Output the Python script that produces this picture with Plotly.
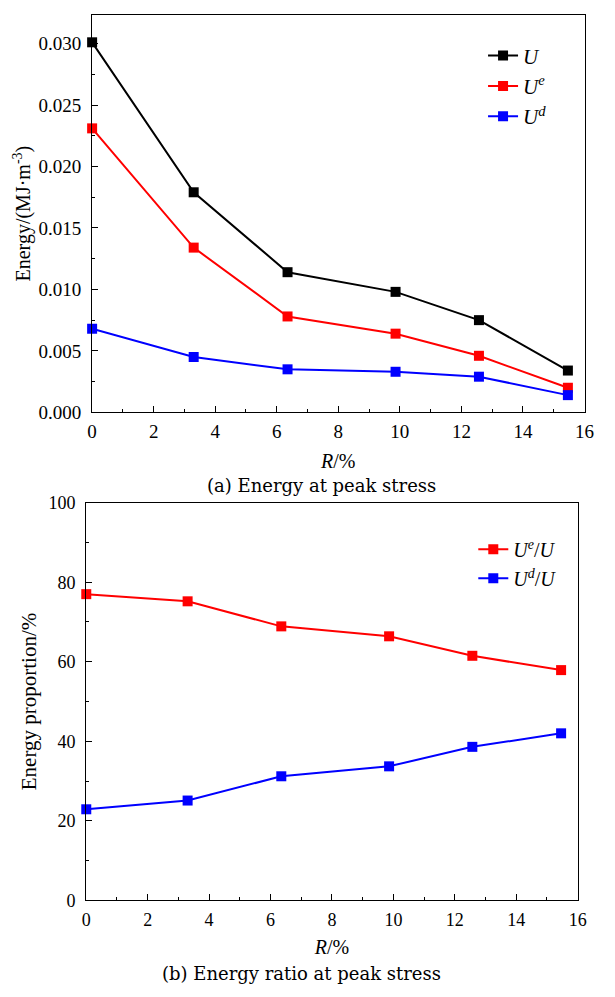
import plotly.graph_objects as go

# ---- data ----
R = [0, 3.3, 6.35, 9.86, 12.57, 15.46]
U = [0.0301, 0.0179, 0.0114, 0.0098, 0.0075, 0.0034]
Ue = [0.0231, 0.0134, 0.0078, 0.0064, 0.0046, 0.0020]
Ud = [0.0068, 0.0045, 0.0035, 0.0033, 0.0029, 0.0014]
Ue_ratio = [77.0, 75.2, 68.9, 66.4, 61.5, 57.9]
Ud_ratio = [22.9, 25.1, 31.2, 33.7, 38.6, 42.0]

top_names = ["<i>U</i>", "<i>U</i><sup><i>e</i></sup>", "<i>U</i><sup><i>d</i></sup>"]
bot_names = ["<i>U</i><sup><i>e</i></sup>/<i>U</i>", "<i>U</i><sup><i>d</i></sup>/<i>U</i>"]
top_colors = ["#000000", "#ff0000", "#0000ff"]
bot_colors = ["#ff0000", "#0000ff"]

W, H = 615, 997
SERIF = "Liberation Serif"

fig = go.Figure()

for ys, name, c in zip([U, Ue, Ud], top_names, top_colors):
    fig.add_trace(go.Scatter(
        x=R, y=ys, name=name, mode="lines+markers",
        line=dict(color=c, width=2),
        marker=dict(symbol="square", size=10, color=c),
        cliponaxis=False, xaxis="x", yaxis="y", legend="legend"))

for ys, name, c in zip([Ue_ratio, Ud_ratio], bot_names, bot_colors):
    fig.add_trace(go.Scatter(
        x=R, y=ys, name=name, mode="lines+markers",
        line=dict(color=c, width=2),
        marker=dict(symbol="square", size=10, color=c),
        cliponaxis=False, xaxis="x2", yaxis="y2", legend="legend2"))


def px_x(p):
    return p / W


def px_y(p):
    return 1 - p / H


axis_common = dict(
    showline=True, linecolor="#000000", linewidth=1.3, mirror=True,
    ticks="inside", ticklen=6, tickwidth=1.2, tickcolor="#000000",
    showgrid=False, zeroline=False,
)

fig.update_layout(
    width=W, height=H,
    margin=dict(l=0, r=0, t=0, b=0),
    paper_bgcolor="white", plot_bgcolor="white",
    font=dict(family=SERIF, color="#000000"),
    xaxis=dict(
        domain=[px_x(89.3), px_x(594)], anchor="y",
        range=[0, 16], dtick=2, tick0=0,
        minor=dict(ticks="inside", ticklen=3, dtick=1, tickcolor="#000000"),
        tickfont=dict(size=19, family=SERIF), ticklabelstandoff=2,
        title=dict(text="<i>R</i>/%", font=dict(size=20, family=SERIF), standoff=12),
        **axis_common),
    yaxis=dict(
        domain=[px_y(411), px_y(5)], anchor="x",
        range=[0, 0.03233], dtick=0.005, tick0=0, tickformat=".3f",
        minor=dict(ticks="inside", ticklen=3, dtick=0.0025, tickcolor="#000000"),
        tickfont=dict(size=19, family=SERIF), ticklabelstandoff=6,
        title=dict(text="Energy/(MJ·m<sup>-3</sup>)", font=dict(size=20, family=SERIF), standoff=2),
        **axis_common),
    xaxis2=dict(
        domain=[px_x(83.3), px_x(587)], anchor="y2",
        range=[0, 16], dtick=2, tick0=0,
        minor=dict(ticks="inside", ticklen=3, dtick=1, tickcolor="#000000"),
        tickfont=dict(size=18, family=SERIF), ticklabelstandoff=3,
        title=dict(text="<i>R</i>/%", font=dict(size=20, family=SERIF), standoff=10),
        **axis_common),
    yaxis2=dict(
        domain=[px_y(909.5), px_y(503.3)], anchor="x2",
        range=[0, 100], dtick=20, tick0=0,
        minor=dict(ticks="inside", ticklen=3, dtick=10, tickcolor="#000000"),
        tickfont=dict(size=18, family=SERIF), ticklabelstandoff=6,
        title=dict(text="Energy proportion/%", font=dict(size=21, family=SERIF), standoff=6),
        **axis_common),
    legend=dict(
        x=px_x(490), y=px_y(26), xanchor="left", yanchor="top",
        bgcolor="rgba(0,0,0,0)", borderwidth=0,
        font=dict(size=21, family=SERIF), tracegroupgap=0),
    legend2=dict(
        x=px_x(480), y=px_y(531), xanchor="left", yanchor="top",
        bgcolor="rgba(0,0,0,0)", borderwidth=0,
        font=dict(size=20, family=SERIF), tracegroupgap=0),
    annotations=[
        dict(text="(a) Energy at peak stress", x=px_x(324), y=px_y(486),
             xref="paper", yref="paper", xanchor="center", yanchor="middle",
             showarrow=False, font=dict(size=18, family="DejaVu Serif", color="#000000")),
        dict(text="(b) Energy ratio at peak stress", x=px_x(304), y=px_y(984),
             xref="paper", yref="paper", xanchor="center", yanchor="middle",
             showarrow=False, font=dict(size=18, family="DejaVu Serif", color="#000000")),
    ],
)

fig.write_html("out.html")
